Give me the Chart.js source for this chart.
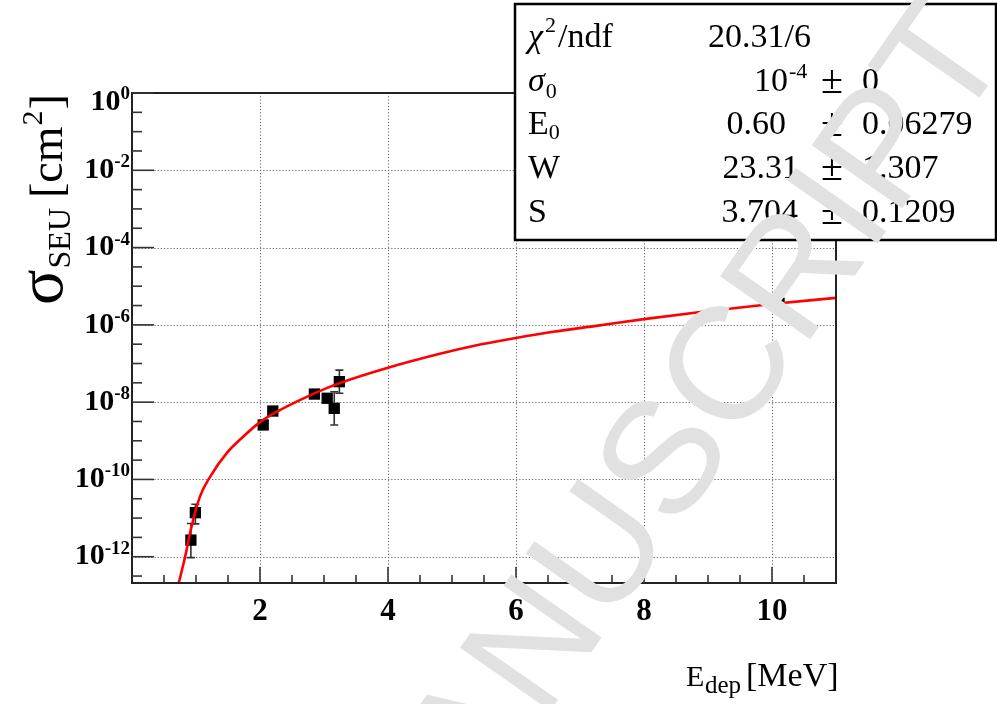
<!DOCTYPE html>
<html><head><meta charset="utf-8">
<script src="https://cdn.jsdelivr.net/npm/chart.js@4/dist/chart.umd.min.js"></script>
<style>html,body{margin:0;padding:0;background:#fff;}#wrap{width:997px;height:704px;position:relative;}</style>
</head><body><div id="wrap"><canvas id="c" width="997" height="704"></canvas></div>
<script>
// ---- data ----
const pointX     = [0.92, 0.99, 2.05, 2.20, 2.85, 3.05, 3.16, 3.24, 10.11];
const pointY     = [2.69e-12, 1.38e-11, 2.57e-9, 5.89e-9, 1.62e-8, 1.26e-8, 6.92e-9, 3.39e-8, 3.6e-6];
const pointYLow  = [9.5e-13, 7.08e-12, 2.57e-9, 5.89e-9, 1.62e-8, 1.26e-8, 2.57e-9, 1.70e-8, 3.6e-6];
const pointYHigh = [7.24e-12, 2.29e-11, 2.57e-9, 5.89e-9, 1.62e-8, 1.26e-8, 1.86e-8, 6.76e-8, 3.6e-6];

const fitX = [0.72, 0.83, 0.93, 1.06, 1.22, 1.48, 1.74, 1.99, 2.26, 2.63, 3.05, 3.24, 4.00, 4.81, 5.35, 6.00, 6.58, 7.28, 8.00, 8.98, 10.00, 11.00];
const fitY = [1.78e-13, 1.0e-12, 6.03e-12, 3.55e-11, 1.17e-10, 4.79e-10, 1.29e-9, 2.95e-9, 5.62e-9, 1.15e-8, 2.34e-8, 3.09e-8, 7.76e-8, 1.78e-7, 2.88e-7, 4.57e-7, 6.61e-7, 9.55e-7, 1.41e-6, 2.24e-6, 3.47e-6, 5.01e-6];

const xTickLabels = [2, 4, 6, 8, 10];
const yTickExponents = [0, -2, -4, -6, -8, -10, -12];
const xRange = [0, 11];
const yRange = [2.09e-13, 1];

const statLabels = ['χ²/ndf', 'σ0', 'E0', 'W', 'S'];
const statValues = ['20.31/6', '10^-4', '0.60', '23.31', '3.704'];
const statErrors = ['', '0', '0.06279', '1.307', '0.1209'];
const watermarkText = 'MANUSCRIPT';

// ---- drawing helpers ----
const SERIF = '"Liberation Serif", "DejaVu Serif", serif';
function lg(v){return Math.log10(v);}

const framePlugin = {
  id: 'frame',
  beforeDatasetsDraw(chart){
    const {ctx, chartArea:a, scales:{x, y}} = chart;
    ctx.save();
    ctx.strokeStyle = '#666'; ctx.lineWidth = 1; ctx.setLineDash([1.2, 2]);
    xTickLabels.forEach(v => { const px = Math.round(x.getPixelForValue(v)) + 0.5;
      ctx.beginPath(); ctx.moveTo(px, a.top); ctx.lineTo(px, a.bottom); ctx.stroke(); });
    yTickExponents.forEach(e => { if (e === 0) return; const py = Math.round(y.getPixelForValue(Math.pow(10, e))) + 0.5;
      ctx.beginPath(); ctx.moveTo(a.left, py); ctx.lineTo(a.right, py); ctx.stroke(); });
    ctx.setLineDash([]);
    const ds = chart.data.datasets[1];
    ctx.strokeStyle = '#333'; ctx.lineWidth = 1.6;
    ds.data.forEach(p => {
      if (p.yl === p.yh) return;
      const px = x.getPixelForValue(p.x);
      const y1 = y.getPixelForValue(p.yl), y2 = y.getPixelForValue(p.yh);
      ctx.beginPath(); ctx.moveTo(px, y1); ctx.lineTo(px, y2);
      ctx.moveTo(px - 4, y1); ctx.lineTo(px + 4, y1);
      ctx.moveTo(px - 4, y2); ctx.lineTo(px + 4, y2); ctx.stroke();
    });
    ctx.restore();
  },
  afterDatasetsDraw(chart){
    const {ctx, chartArea:a, scales:{x, y}} = chart;
    ctx.save();
    ctx.strokeStyle = '#222'; ctx.lineWidth = 2;
    ctx.strokeRect(a.left, a.top, a.right - a.left, a.bottom - a.top);
    ctx.lineWidth = 1.6; ctx.strokeStyle = '#333';
    for (let v = 0.5; v < xRange[1]; v += 0.5) {
      const px = x.getPixelForValue(v);
      const len = (Math.abs(v % 2) < 1e-9) ? 16 : 8;
      ctx.beginPath(); ctx.moveTo(px, a.bottom); ctx.lineTo(px, a.bottom - len); ctx.stroke();
    }
    for (let e = 0; e >= lg(yRange[0]); e -= 0.5) {
      const py = y.getPixelForValue(Math.pow(10, e));
      const len = (Math.abs(e % 2) < 1e-9) ? 22 : 10;
      ctx.beginPath(); ctx.moveTo(a.left, py); ctx.lineTo(a.left + len, py); ctx.stroke();
    }
    ctx.fillStyle = '#000';
    ctx.font = 'bold 31px ' + SERIF; ctx.textAlign = 'center'; ctx.textBaseline = 'middle';
    xTickLabels.forEach(v => ctx.fillText(String(v), x.getPixelForValue(v), 612));
    yTickExponents.forEach(e => {
      let py = y.getPixelForValue(Math.pow(10, e));
      if (e === 0) py = 102;
      ctx.font = 'bold 30px ' + SERIF;
      const w1 = ctx.measureText('10').width;
      ctx.font = 'bold 19px ' + SERIF;
      const es = String(e);
      const w2 = ctx.measureText(es).width;
      const x0 = 130 - w1 - w2;
      ctx.textAlign = 'left';
      ctx.font = 'bold 30px ' + SERIF; ctx.textBaseline = 'middle';
      ctx.fillText('10', x0, py);
      ctx.font = 'bold 19px ' + SERIF; ctx.textBaseline = 'alphabetic';
      ctx.fillText(es, x0 + w1, py - 3);
    });
    ctx.save();
    ctx.translate(62, 305); ctx.rotate(-Math.PI / 2);
    ctx.textAlign = 'left'; ctx.textBaseline = 'alphabetic';
    let u = 0;
    ctx.font = '66px ' + SERIF; ctx.fillText('σ', u, 0); u += ctx.measureText('σ').width + 1;
    ctx.font = '32px ' + SERIF; ctx.fillText('SEU', u, 8); u += ctx.measureText('SEU').width + 10;
    ctx.font = '46px ' + SERIF; ctx.fillText('[cm', u, 0); u += ctx.measureText('[cm').width;
    ctx.font = '30px ' + SERIF; ctx.fillText('2', u + 1, -20); u += ctx.measureText('2').width + 2;
    ctx.font = '46px ' + SERIF; ctx.fillText(']', u, 0);
    ctx.restore();
    ctx.textAlign = 'left'; ctx.textBaseline = 'alphabetic';
    ctx.font = '30px ' + SERIF; ctx.fillText('E', 686, 686);
    ctx.font = '25px ' + SERIF; ctx.fillText('dep', 705, 693);
    ctx.font = '34px ' + SERIF; ctx.fillText('[MeV]', 746, 686);
    ctx.restore();
  },
  afterDraw(chart){
    const ctx = chart.ctx;
    ctx.save();
    ctx.fillStyle = '#fff'; ctx.fillRect(515, 4, 481, 236);
    ctx.strokeStyle = '#000'; ctx.lineWidth = 2.5; ctx.strokeRect(515, 4, 481, 236);
    ctx.fillStyle = '#000'; ctx.textBaseline = 'alphabetic'; ctx.textAlign = 'left';
    const rows = [47, 91, 134, 178, 222];
    const F = '34px ' + SERIF, FI = 'italic 34px ' + SERIF, FS = '22px ' + SERIF;
    ctx.font = FI; ctx.fillText('χ', 528, rows[0]); let w = ctx.measureText('χ').width;
    ctx.font = FS; ctx.fillText('2', 528 + w + 2, rows[0] - 15);
    ctx.font = F; ctx.fillText('/ndf', 528 + w + 15, rows[0]);
    ctx.font = FI; ctx.fillText('σ', 528, rows[1]); w = ctx.measureText('σ').width;
    ctx.font = FS; ctx.fillText('0', 528 + w + 1, rows[1] + 7);
    ctx.font = F; ctx.fillText('E', 528, rows[2]); w = ctx.measureText('E').width;
    ctx.font = FS; ctx.fillText('0', 528 + w, rows[2] + 5);
    ctx.font = F; ctx.fillText(statLabels[3], 528, rows[3]);
    ctx.fillText(statLabels[4], 528, rows[4]);
    ctx.fillText(statValues[0], 708, rows[0]);
    ctx.fillText('10', 754, rows[1]);
    ctx.font = FS; ctx.fillText('-4', 789, rows[1] - 13);
    ctx.font = F; ctx.textAlign = 'right';
    ctx.fillText(statValues[2], 786, rows[2]);
    ctx.fillText(statValues[3], 799, rows[3]);
    ctx.fillText(statValues[4], 798, rows[4]);
    ctx.textAlign = 'left';
    ctx.font = '40px ' + SERIF;
    [1, 2, 3, 4].forEach(r => ctx.fillText('±', 821, rows[r] + 2));
    ctx.font = F;
    for (let r = 1; r < 5; r++) ctx.fillText(statErrors[r], 862, rows[r]);
    // watermark
    ctx.fillStyle = '#e1e1e1';
    ctx.translate(405, 918); ctx.rotate(-55 * Math.PI / 180);
    ctx.font = '160px "Liberation Sans", Arial, sans-serif';
    ctx.fillText(watermarkText, 0, 0);
    ctx.restore();
  }
};

new Chart(document.getElementById('c'), {
  type: 'scatter',
  data: {
    datasets: [
      { label: 'fit', data: fitX.map((v, i) => ({x: v, y: fitY[i]})), showLine: true,
        borderColor: '#ff0000', borderWidth: 2.6, pointRadius: 0, cubicInterpolationMode: 'monotone', fill: false },
      { label: 'data', data: pointX.map((v, i) => ({x: v, y: pointY[i], yl: pointYLow[i], yh: pointYHigh[i]})),
        pointStyle: 'rect', pointRadius: 8, backgroundColor: '#000', borderColor: '#000', borderWidth: 0, showLine: false }
    ]
  },
  options: {
    responsive: false, animation: false, devicePixelRatio: 1,
    layout: { padding: { left: 132, top: 93, right: 161, bottom: 121 } },
    plugins: { legend: { display: false }, tooltip: { enabled: false } },
    scales: {
      x: { type: 'linear', min: xRange[0], max: xRange[1], display: false },
      y: { type: 'logarithmic', min: yRange[0], max: yRange[1], display: false }
    }
  },
  plugins: [framePlugin]
});
</script></body></html>
